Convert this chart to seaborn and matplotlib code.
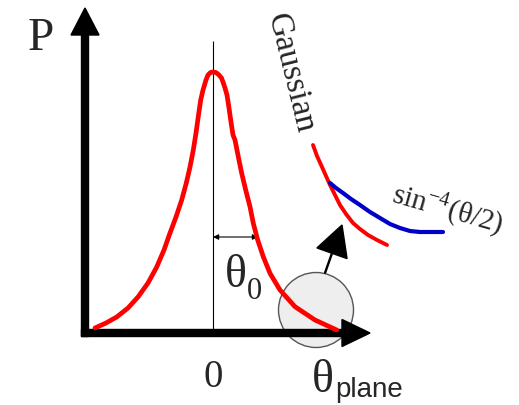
import numpy as np
import pandas as pd
import matplotlib
matplotlib.use("Agg")
import matplotlib.pyplot as plt
from matplotlib.patches import Circle
import seaborn as sns

# main peak (theta in px from the centre line, P in px above the axis)
peak_theta = [-118, -107, -96.3, -85, -75, -65, -56.3, -49, -43, -37, -31.3, -26.7, -23,
              -19.7, -17, -14.5, -12.3, -10, -7, -5, -2.5, 0,
              3, 6, 8.5, 10, 12, 14, 16, 18, 20, 22, 25.3, 28.7, 32.7, 37, 40.3,
              44.7, 50.3, 57, 67, 82, 102, 123.7]
peak_p = [5, 10, 16, 25, 36, 50, 66, 83, 100, 116, 133, 150, 166,
          183, 200, 218, 233, 243, 253, 258, 260.5, 261,
          260.5, 258, 255, 251, 245, 238, 225, 211, 198, 193, 176.3, 159.7, 143, 126.3, 109.7,
          93, 76.3, 59.7, 43, 26.3, 13, 3]

# zoomed tail: gaussian part and single scattering part
gauss_theta = [100, 104, 109, 113, 117, 122, 127, 133, 140, 147, 155, 164, 174]
gauss_p = [188, 177, 166, 157, 148, 138, 128, 119, 110, 104, 98, 93, 88]
rutherford_theta = [117, 123, 130, 138, 147, 157, 167, 177, 187, 197, 207, 218, 230]
rutherford_p = [150, 145, 140, 134, 128, 121, 115, 109, 105, 102, 101, 101, 101]

sns.set_style("white")
plt.rcParams['font.family'] = ['Liberation Serif', 'DejaVu Serif']
plt.rcParams['mathtext.fontset'] = 'stix'

fig = plt.figure(figsize=(5.19, 4.05), dpi=100)
ax = fig.add_axes([0, 0, 1, 1])
ax.set_xlim(-213, 306)
ax.set_ylim(-72, 333)
ax.axis('off')

# magnifier circle sits under everything else
ax.add_patch(Circle((103, 23), 37.5, facecolor='#eeeeee', edgecolor='#555555', lw=1, zorder=1))

# axes with arrow heads
ax.arrow(-128, -3.5, 0, 328.5, width=7, head_width=28, head_length=27,
         length_includes_head=True, fc='k', ec='k', zorder=3)
ax.arrow(-131.5, 0, 288.5, 0, width=7, head_width=27, head_length=28,
         length_includes_head=True, fc='k', ec='k', zorder=3)

ax.vlines(0, 0, 292, color='k', lw=0.8, zorder=2)

line_kw = dict(sort=False, estimator=None, ax=ax, zorder=4, solid_joinstyle='round')
sns.lineplot(x=peak_theta, y=peak_p, color='#ff0000', lw=3.4, **line_kw)
sns.lineplot(x=gauss_theta, y=gauss_p, color='#ff0000', lw=2.8, **line_kw)
sns.lineplot(x=rutherford_theta, y=rutherford_p, color='#0000c8', lw=3, **line_kw)

# width marker
ax.annotate('', xy=(0, 96), xytext=(45, 96),
            arrowprops=dict(arrowstyle='<|-|>', color='k', lw=0.8, shrinkA=0, shrinkB=0, mutation_scale=8))

# arrow from the circle to the zoom
ax.arrow(112, 60, 17, 48, width=1, head_width=32, head_length=30,
         length_includes_head=True, fc='k', ec='k', zorder=3)

ax.text(-172.5, 283, 'P', fontsize=34, ha='center', va='baseline')
ax.text(0, -54, '0', fontsize=28, ha='center', va='baseline')
ax.text(22.5, 46, 'θ', fontsize=33, ha='center', va='baseline')
ax.text(41, 34, '0', fontsize=22, ha='center', va='baseline')
ax.text(110, -59, 'θ', fontsize=33, ha='center', va='baseline')
ax.text(122, -64, 'plane', fontsize=20, ha='left', va='baseline', family=['Liberation Sans', 'DejaVu Sans'])
ax.text(77, 260, 'Gaussian', fontsize=24, rotation=-76, rotation_mode='anchor', ha='center', va='center')
ax.text(234.5, 124, r'sin$^{\mathregular{-4}}$(θ/2)', fontsize=21, rotation=-16,
        rotation_mode='anchor', ha='center', va='center')

fig.savefig('out.png', dpi=100)
